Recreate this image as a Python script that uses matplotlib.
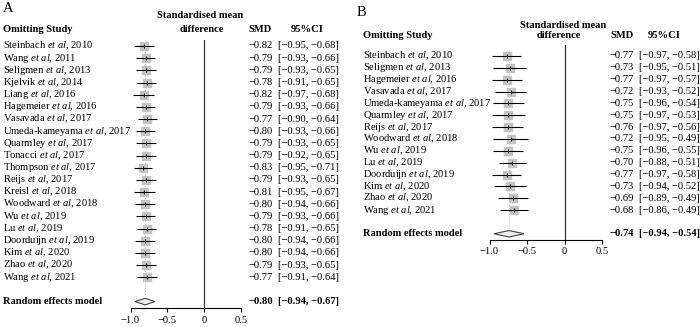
import matplotlib
matplotlib.use("Agg")
import matplotlib.pyplot as plt
from matplotlib.patches import Polygon
from matplotlib.transforms import blended_transform_factory

plt.rcParams["font.family"] = ["Liberation Serif", "DejaVu Serif"]
plt.rcParams["mathtext.fontset"] = "custom"
plt.rcParams["mathtext.rm"] = "Liberation Serif"
plt.rcParams["mathtext.it"] = "Liberation Serif:italic"
plt.rcParams["mathtext.bf"] = "Liberation Serif:bold"

# ---- panel A data ----
a_names = ["Steinbach", "Wang", "Seligmen", "Kjelvik", "Liang", "Hagemeier", "Vasavada",
           "Umeda-kameyama", "Quarmley", "Tonacci", "Thompson", "Reijs", "Kreisl",
           "Woodward", "Wu", "Lu", "Doorduijn", "Kim", "Zhao", "Wang"]
a_years = [2010, 2011, 2013, 2014, 2016, 2016, 2017, 2017, 2017, 2017, 2017, 2017, 2018,
           2018, 2019, 2019, 2019, 2020, 2020, 2021]
a_smd = [-0.82, -0.79, -0.79, -0.78, -0.82, -0.79, -0.77, -0.80, -0.79, -0.79, -0.83, -0.79,
         -0.81, -0.80, -0.79, -0.78, -0.80, -0.80, -0.79, -0.77]
a_lo = [-0.95, -0.93, -0.93, -0.91, -0.97, -0.93, -0.90, -0.93, -0.93, -0.92, -0.95, -0.93,
        -0.95, -0.94, -0.93, -0.91, -0.94, -0.94, -0.93, -0.91]
a_hi = [-0.68, -0.66, -0.65, -0.65, -0.68, -0.66, -0.64, -0.66, -0.65, -0.65, -0.71, -0.65,
        -0.67, -0.66, -0.66, -0.65, -0.66, -0.66, -0.65, -0.64]
a_pooled = (-0.80, -0.94, -0.67)

# ---- panel B data ----
b_names = ["Steinbach", "Seligmen", "Hagemeier", "Vasavada", "Umeda-kameyama", "Quarmley",
           "Reijs", "Woodward", "Wu", "Lu", "Doorduijn", "Kim", "Zhao", "Wang"]
b_years = [2010, 2013, 2016, 2017, 2017, 2017, 2017, 2018, 2019, 2019, 2019, 2020, 2020, 2021]
b_smd = [-0.77, -0.73, -0.77, -0.72, -0.75, -0.75, -0.76, -0.72, -0.75, -0.70, -0.77, -0.73,
         -0.69, -0.68]
b_lo = [-0.97, -0.95, -0.97, -0.93, -0.96, -0.97, -0.97, -0.95, -0.96, -0.88, -0.97, -0.94,
        -0.89, -0.86]
b_hi = [-0.58, -0.51, -0.57, -0.52, -0.54, -0.53, -0.56, -0.49, -0.55, -0.51, -0.58, -0.52,
        -0.49, -0.49]
b_pooled = (-0.74, -0.94, -0.54)

xticks = [-1.0, -0.5, 0, 0.5]
xticklabels = ["\u22121.0", "\u22120.5", "0", "0.5"]

W, H = 700, 327
FS = 7.6


def fx(x):
    return x / W


def fy(y):
    return 1 - y / H


def num(v):
    return f"{v:.2f}".replace("-", "\u2212")


def forest(fig, names, years, smd, lo, hi, pooled, lay):
    n = len(names)
    x0, x1 = lay["xm1"], lay["xp05"]
    top, bot = lay["top"], lay["axis"]
    r0, dr = lay["row0"], lay["dr"]
    ax = fig.add_axes([fx(x0), fy(bot), fx(x1 - x0), (bot - top) / H])
    ax.set_xlim(-1.0, 0.5)
    ax.set_ylim((bot - r0) / dr, (top - r0) / dr)
    ax.patch.set_alpha(0)
    for s in ["top", "right", "left"]:
        ax.spines[s].set_visible(False)
    ax.spines["bottom"].set_linewidth(0.8)
    ax.set_yticks([])
    ax.set_xticks(xticks)
    ax.set_xticklabels(xticklabels, fontsize=FS)
    ax.tick_params(axis="x", length=3, width=0.8, pad=lay["pad"])

    ax.axvline(0, color="#333333", lw=0.9)
    ax.plot([pooled[0], pooled[0]], [-0.5, n + 0.5], color="#999999", lw=0.6,
            ls=(0, (1, 2.5)))

    rows = list(range(n))
    ax.plot(smd, rows, ls="none", marker="s", ms=6.2, mfc="#c4c4c4", mec="#c4c4c4")
    ax.hlines(rows, lo, hi, color="black", lw=0.8)
    ax.plot(smd, rows, ls="none", marker="|", ms=2.8, mew=0.8, color="black")

    ys = n + 1
    est, plo, phi = pooled
    ax.add_patch(Polygon([(plo, ys), (est, ys - 0.27), (phi, ys), (est, ys + 0.27)],
                         closed=True, fc="#eeeeee", ec="#444444", lw=0.8, clip_on=False))

    tr = blended_transform_factory(fig.transFigure, ax.transData)
    for i in range(n):
        ax.text(fx(lay["lab"]), i, f"{names[i]} $\\mathit{{et\\ al}}$, {years[i]}",
                transform=tr, fontsize=FS, va="center", ha="left")
        ax.text(fx(lay["smd"]), i, num(smd[i]), transform=tr, fontsize=FS,
                va="center", ha="right")
        ax.text(fx(lay["ci"]), i, f"[{num(lo[i])}, {num(hi[i])}]", transform=tr,
                fontsize=FS, va="center", ha="left")
    ax.text(fx(lay["lab"]), ys, "Random effects model", transform=tr, fontsize=FS,
            va="center", ha="left", fontweight="bold")
    ax.text(fx(lay["smd"]), ys, num(est), transform=tr, fontsize=FS, va="center",
            ha="right", fontweight="bold")
    ax.text(fx(lay["ci"]), ys, f"[{num(plo)}, {num(phi)}]", transform=tr, fontsize=FS,
            va="center", ha="left", fontweight="bold")

    # headers
    fig.text(fx(lay["letter"][0]), fy(lay["letter"][1]), lay["name"], fontsize=10.5,
             va="center", ha="left")
    hy = lay["hy"]
    fig.text(fx(lay["lab"]), fy(hy), "Omitting Study", fontsize=FS, fontweight="bold",
             va="center", ha="left")
    fig.text(fx(lay["smdh"][0]), fy(hy - lay["smdh"][1]), "Standardised mean", fontsize=FS,
             fontweight="bold", va="center", ha="center")
    fig.text(fx(lay["smdh"][2]), fy(hy), "difference", fontsize=FS, fontweight="bold",
             va="center", ha="center")
    fig.text(fx(lay["smdc"]), fy(hy), "SMD", fontsize=FS, fontweight="bold",
             va="center", ha="center")
    fig.text(fx(lay["cic"]), fy(hy), "95%CI", fontsize=FS, fontweight="bold",
             va="center", ha="center")
    return ax


fig = plt.figure(figsize=(W / 100, H / 100), dpi=100)

lay_a = dict(name="A", letter=(3, 9), hy=29, xm1=130.5, xp05=240.75, top=40, axis=308,
             row0=46, dr=12.17, lab=3, smd=273, ci=278, smdh=(200, 13, 202),
             smdc=260, cic=307, pad=3)
lay_b = dict(name="B", letter=(357, 12), hy=36, xm1=489.5, xp05=602, top=45, axis=240,
             row0=56, dr=11.85, lab=363, smd=634, ci=639, smdh=(563, 10, 559),
             smdc=622, cic=664, pad=2)

forest(fig, a_names, a_years, a_smd, a_lo, a_hi, a_pooled, lay_a)
forest(fig, b_names, b_years, b_smd, b_lo, b_hi, b_pooled, lay_b)

fig.savefig("out.png", dpi=100)
